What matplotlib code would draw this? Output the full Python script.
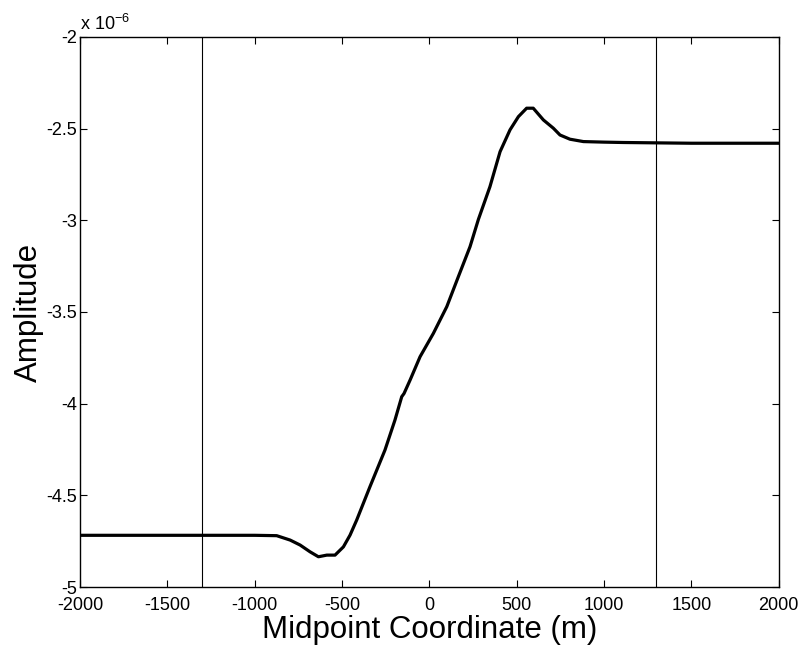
import numpy as np
import matplotlib
matplotlib.use('Agg')
import matplotlib.pyplot as plt

plt.rcParams['font.family'] = ['Liberation Sans', 'DejaVu Sans']
plt.rcParams['mathtext.fontset'] = 'custom'
plt.rcParams['mathtext.rm'] = 'Liberation Sans'

# midpoint coordinate (m) and amplitude (units of 1e-6)
midpoint = [-2000, -1500, -1000, -874, -797, -740, -683, -635, -587, -540, -492,
            -454, -416, -378, -340, -254, -197, -158, -145, -110, -53, 23, 100,
            166, 233, 281, 347, 405, 462, 510, 557, 595, 653, 710, 748, 805,
            882, 1000, 1111, 1500, 2000]
amplitude = [-4.718, -4.718, -4.718, -4.720, -4.744, -4.771, -4.808, -4.835,
             -4.826, -4.826, -4.781, -4.717, -4.635, -4.544, -4.453, -4.253,
             -4.09, -3.962, -3.945, -3.871, -3.744, -3.617, -3.471, -3.308,
             -3.144, -2.995, -2.817, -2.626, -2.507, -2.435, -2.389, -2.389,
             -2.453, -2.498, -2.535, -2.558, -2.571, -2.574, -2.576, -2.58,
             -2.58]
marker_lines = [-1300, 1300]

xticks = [-2000, -1500, -1000, -500, 0, 500, 1000, 1500, 2000]
yticks = [-5, -4.5, -4, -3.5, -3, -2.5, -2]
ytick_labels = ['-5', '-4.5', '-4', '-3.5', '-3', '-2.5', '-2']

fig = plt.figure(figsize=(8.01, 6.48), dpi=100)
ax = fig.add_axes([0.0999, 0.0941, 0.8722, 0.849])

ax.plot(midpoint, amplitude, color='black', linewidth=2.3)
for xv in marker_lines:
    ax.axvline(xv, color='black', linewidth=0.8)

ax.set_xlim(-2000, 2000)
ax.set_ylim(-5, -2)
ax.set_xticks(xticks)
ax.set_xticklabels([str(t) for t in xticks])
ax.set_yticks(yticks)
ax.set_yticklabels(ytick_labels)
ax.tick_params(direction='in', length=5, width=0.8, labelsize=13,
               top=True, right=True)
ax.tick_params(axis='x', pad=7)
ax.tick_params(axis='y', pad=2)
for sp in ax.spines.values():
    sp.set_linewidth(1.0)

ax.set_xlabel('Midpoint Coordinate (m)', fontsize=22.5, labelpad=1)
ax.set_ylabel('Amplitude', fontsize=22.5, labelpad=2)
ax.text(0.0, 1.005, r'x 10$^{-6}$', transform=ax.transAxes, fontsize=13,
        ha='left', va='bottom')

fig.savefig('out.png', dpi=100)
